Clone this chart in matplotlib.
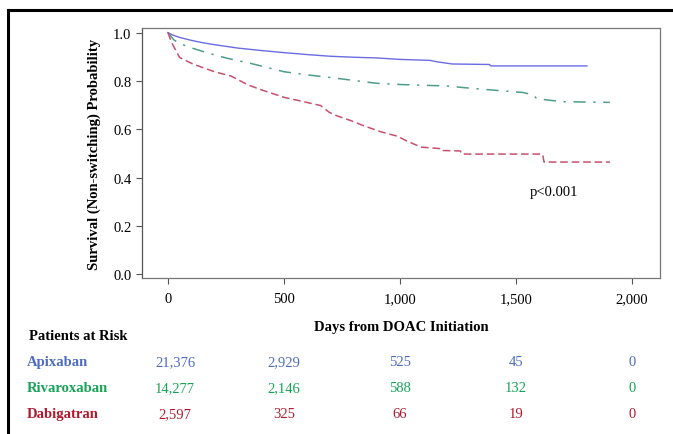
import matplotlib.pyplot as plt
from matplotlib.lines import Line2D
from matplotlib.transforms import blended_transform_factory

plt.rcParams["font.family"] = ["Liberation Serif", "DejaVu Serif"]

# Kaplan-Meier curves (days, survival)
apix_days = [0, 20, 50, 100, 150, 200, 250, 300, 400, 500, 600, 700, 800, 900,
             1000, 1130, 1160, 1225, 1385, 1392, 1806]
apix_surv = [1.0, 0.99, 0.98, 0.968, 0.958, 0.95, 0.943, 0.936, 0.926, 0.917,
             0.909, 0.902, 0.898, 0.895, 0.889, 0.885, 0.879, 0.870, 0.868, 0.862, 0.862]

riva_days = [0, 25, 50, 100, 150, 200, 250, 300, 350, 400, 500, 600, 700, 800,
             900, 1000, 1100, 1200, 1300, 1400, 1530, 1575, 1590, 1700, 1905]
riva_surv = [1.0, 0.97, 0.955, 0.937, 0.922, 0.908, 0.895, 0.884, 0.874, 0.862,
             0.838, 0.825, 0.814, 0.802, 0.79, 0.785, 0.782, 0.779, 0.770, 0.762,
             0.752, 0.742, 0.726, 0.714, 0.711]

dabi_days = [0, 15, 50, 107, 200, 272, 346, 400, 500, 566, 658, 695, 732, 787,
             842, 915, 989, 1026, 1090, 1170, 1175, 1260, 1267, 1615, 1621, 1905]
dabi_surv = [1.0, 0.96, 0.897, 0.87, 0.838, 0.82, 0.783, 0.764, 0.732, 0.718,
             0.698, 0.67, 0.654, 0.636, 0.615, 0.59, 0.571, 0.553, 0.526, 0.52,
             0.512, 0.51, 0.497, 0.497, 0.464, 0.464]

x_ticks = [0, 500, 1000, 1500, 2000]
y_ticks = [0.0, 0.2, 0.4, 0.6, 0.8, 1.0]

groups = ["Apixaban", "Rivaroxaban", "Dabigatran"]
at_risk = {
    "Apixaban": ["21,376", "2,929", "525", "45", "0"],
    "Rivaroxaban": ["14,277", "2,146", "588", "132", "0"],
    "Dabigatran": ["2,597", "325", "66", "19", "0"],
}
line_colors = {"Apixaban": "#6a6ce0", "Rivaroxaban": "#4f9c8c", "Dabigatran": "#c8506e"}
text_colors = {"Apixaban": "#4d6bc2", "Rivaroxaban": "#17a357", "Dabigatran": "#b3192c"}

fig = plt.figure(figsize=(6.73, 4.35), dpi=100)
ax = fig.add_axes([142 / 673, 1 - 279 / 435, 518 / 673, 250 / 435])

ax.plot(apix_days, apix_surv, color=line_colors["Apixaban"], lw=1.0)
ax.plot(riva_days, riva_surv, color=line_colors["Rivaroxaban"], lw=1.1,
        dashes=(8, 5, 1.5, 5))
ax.plot(dabi_days, dabi_surv, color=line_colors["Dabigatran"], lw=1.1,
        dashes=(5, 2.5))

ax.set_xlim(-112, 2121)
ax.set_ylim(-0.016, 1.019)
ax.set_xticks(x_ticks)
ax.set_xticklabels([f"{t:,}" for t in x_ticks])
ax.set_yticks(y_ticks)
ax.set_yticklabels([f"{t:.1f}" for t in y_ticks])
ax.tick_params(axis="both", labelsize=10.5, color="#555555", length=4, width=0.8)
ax.tick_params(axis="x", pad=6)
for sp in ax.spines.values():
    sp.set_color("#777777")
    sp.set_linewidth(0.9)
ax.spines["left"].set_color("#555555")

ax.set_xlabel("Days from DOAC Initiation", fontsize=10.5, fontweight="bold", labelpad=11)
ax.set_ylabel("Survival (Non-switching) Probability", fontsize=10.5, fontweight="bold",
              labelpad=9)
ax.text(1662, 0.344, "p<0.001", fontsize=10.5, ha="center", va="center")

# patients at risk table, rows placed on their text baselines
trans = blended_transform_factory(ax.transData, fig.transFigure)
col_shift = [30, 0, 0, 0, 0]
fig.text(29 / 673, 1 - 340 / 435, "Patients at Risk", fontsize=10.5, fontweight="bold",
         ha="left", va="baseline")
row_y = [366, 392, 418]
for g, yy in zip(groups, row_y):
    fig.text(27 / 673, 1 - yy / 435, g, fontsize=10.5, fontweight="bold",
             color=text_colors[g], ha="left", va="baseline")
    for xt, dx, val in zip(x_ticks, col_shift, at_risk[g]):
        ax.text(xt + dx, 1 - yy / 435, val, transform=trans, fontsize=10.5,
                color=text_colors[g], ha="center", va="baseline")

# outer frame (top and left edges)
fig.add_artist(Line2D([8 / 673, 1], [1 - 11 / 435, 1 - 11 / 435], color="black",
                      lw=2.2, transform=fig.transFigure))
fig.add_artist(Line2D([8 / 673, 8 / 673], [1 - 11 / 435, 0], color="black",
                      lw=2.2, transform=fig.transFigure))

fig.savefig("out.png", dpi=100)
